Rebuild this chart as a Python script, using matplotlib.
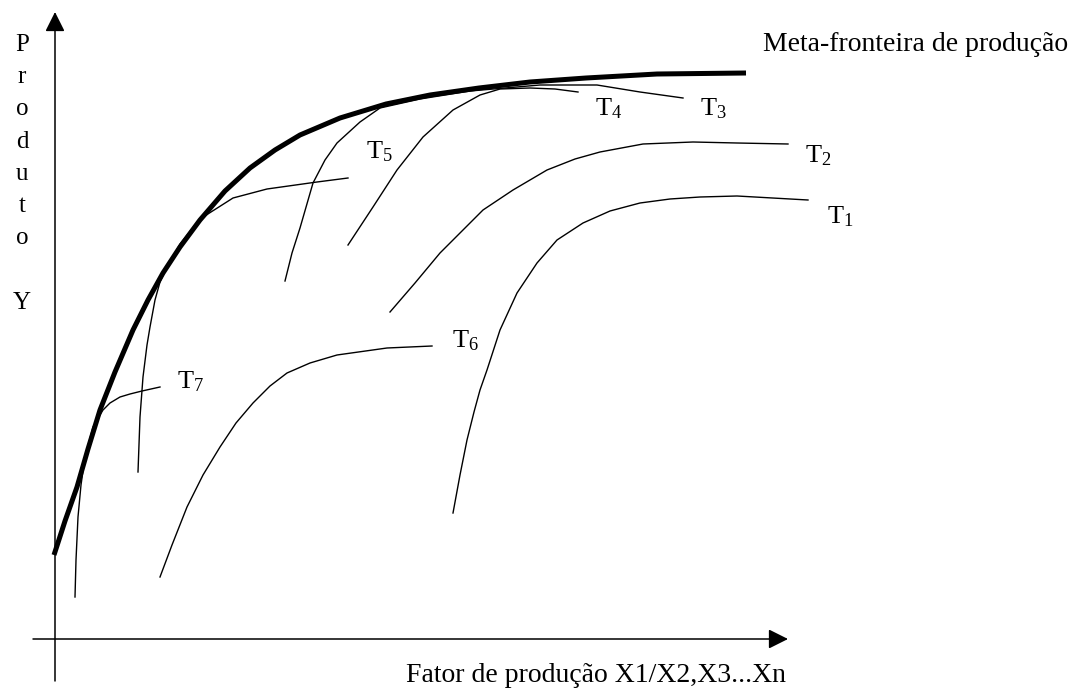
import matplotlib
matplotlib.use("Agg")
import matplotlib.pyplot as plt

plt.rcParams['font.family'] = ['Liberation Serif', 'DejaVu Serif']
plt.rcParams['mathtext.fontset'] = 'custom'
plt.rcParams['mathtext.rm'] = 'Liberation Serif'
plt.rcParams['mathtext.it'] = 'Liberation Serif:italic'

# === data (pixel units, y grows downwards) ===
META_X = [54, 65, 77, 88, 100, 115, 133, 148, 163, 180, 200, 225, 250, 275, 300, 340, 386, 430, 479, 530, 586, 657, 746]
META_Y = [555, 521, 487, 449, 410, 372, 330, 300, 273, 247, 220, 191, 168, 150, 135, 118, 104, 95, 88, 82, 78, 74, 73]

T1_X = [453, 460, 467, 474, 480, 487, 500, 517, 537, 557, 583, 610, 640, 670, 700, 737, 808]
T1_Y = [513, 475, 440, 412, 390, 370, 330, 293, 263, 240, 223, 211, 203, 199, 197, 196, 200]

T2_X = [390, 415, 440, 460, 483, 513, 547, 575, 600, 643, 693, 737, 788]
T2_Y = [312, 283, 253, 233, 210, 190, 170, 159, 152, 144, 142, 143, 144]

T3_X = [285, 292, 300, 313, 325, 337, 360, 380, 420, 470, 540, 597, 640, 683]
T3_Y = [281, 253, 228, 183, 160, 143, 122, 108, 99, 91, 85, 85, 92, 98]

T4_X = [348, 373, 397, 423, 453, 480, 500, 530, 555, 578]
T4_Y = [245, 207, 170, 137, 110, 95, 89, 88, 89, 92]

T5_X = [138, 140, 143, 147, 150, 155, 160, 165, 180, 200, 233, 267, 317, 348]
T5_Y = [472, 417, 377, 345, 327, 300, 282, 271, 244, 219, 198, 189, 182, 178]

T6_X = [160, 172, 187, 203, 220, 236, 253, 270, 287, 310, 337, 387, 432]
T6_Y = [577, 545, 507, 475, 447, 423, 403, 386, 373, 363, 355, 348, 346]

T7_X = [75, 76, 78, 81, 85, 93, 103, 110, 120, 130, 142, 160]
T7_Y = [597, 560, 517, 485, 457, 427, 410, 403, 397, 394, 391, 387]

CURVES = [(T1_X, T1_Y), (T2_X, T2_Y), (T3_X, T3_Y), (T4_X, T4_Y),
          (T5_X, T5_Y), (T6_X, T6_Y), (T7_X, T7_Y)]

LABELS = ['1', '2', '3', '4', '5', '6', '7']
LABEL_X = [827, 805, 700, 595, 366, 452, 177]
LABEL_Y = [223, 162, 115, 115, 158, 347, 388]

fig = plt.figure(figsize=(10.76, 6.88), dpi=100)
ax = fig.add_axes([0, 0, 1, 1])
ax.set_xlim(0, 1076)
ax.set_ylim(688, 0)
ax.axis('off')

# eixos com setas
arrow = dict(arrowstyle='-|>,head_length=1.0,head_width=0.5',
             mutation_scale=12, lw=1.1, color='black', shrinkA=0, shrinkB=0)
ax.annotate('', xy=(55, 12), xytext=(55, 681), arrowprops=arrow)
ax.annotate('', xy=(788, 639), xytext=(33, 639), arrowprops=arrow)

# curvas tecnológicas
for cx, cy in CURVES:
    ax.plot(cx, cy, color='black', lw=1.0, solid_joinstyle='round')

# meta-fronteira
ax.plot(META_X, META_Y, color='black', lw=3.6, solid_joinstyle='round', solid_capstyle='butt')

for lab, lx, ly in zip(LABELS, LABEL_X, LABEL_Y):
    ax.text(lx, ly, 'T$_{%s}$' % lab, fontsize=19, ha='left', va='baseline')

ax.text(763, 51, 'Meta-fronteira de produção', fontsize=20, ha='left', va='baseline')
ax.text(406, 682, 'Fator de produção X1/X2,X3...Xn', fontsize=20, ha='left', va='baseline')
ax.text(22, 34, 'P\nr\no\nd\nu\nt\no\n\nY', fontsize=18, ha='center', va='top',
        multialignment='center', linespacing=1.6)

fig.savefig('out.png', dpi=100)
